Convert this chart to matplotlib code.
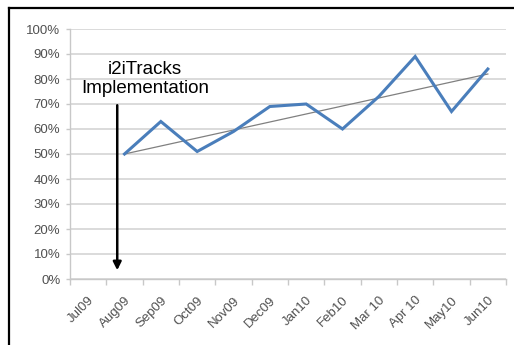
import numpy as np
import matplotlib
matplotlib.use("Agg")
import matplotlib.pyplot as plt
from matplotlib.lines import Line2D

months = ["Jul09", "Aug09", "Sep09", "Oct09", "Nov09", "Dec09", "Jan10",
          "Feb10", "Mar 10", "Apr 10", "May10", "Jun10"]
# share per month, no value for Jul09
rate = [np.nan, 0.50, 0.63, 0.51, 0.59, 0.69, 0.70, 0.60, 0.73, 0.89, 0.67, 0.84]
trend_ends = [0.50, 0.82]          # straight trend from Aug09 to Jun10
marker_month = "Aug09"

plt.rcParams['font.family'] = ['Liberation Sans', 'DejaVu Sans']

fig = plt.figure(figsize=(5.14, 3.45), dpi=100)
ax = fig.add_axes([70 / 514, 1 - 279 / 345, 436 / 514, 250 / 345])

x = np.arange(len(months))
ax.plot(x, rate, color="#4a7ebb", lw=2.2, solid_joinstyle="miter", zorder=3)
ax.plot([1, len(months) - 1], trend_ends, color="#808080", lw=0.9, zorder=2)

ax.set_xlim(-0.5, len(months) - 0.5)
ax.set_ylim(0, 1)

# gridlines
ax.set_yticks(np.arange(0, 1.01, 0.1))
ax.set_yticklabels([f"{int(round(v * 100))}%" for v in np.arange(0, 1.01, 0.1)])
ax.yaxis.grid(True, color="#d4d4d4", lw=1.2)
ax.set_axisbelow(True)

# category ticks sit between labels
ax.set_xticks(np.arange(-0.5, len(months)), minor=False)
ax.set_xticklabels([])
ax.set_xticks(x, minor=True)
ax.set_xticklabels(months, minor=True, rotation=45, ha="right",
                   rotation_mode="anchor")
ax.tick_params(axis="x", which="major", length=4, color="#c8c8c8", width=1)
ax.tick_params(axis="x", which="minor", length=0, pad=11, labelsize=9.5,
               labelcolor="#505050")
ax.tick_params(axis="y", length=3, color="#c8c8c8", width=1, labelsize=9.5,
               labelcolor="#505050", pad=4)

for side in ["top", "right"]:
    ax.spines[side].set_visible(False)
for side in ["left", "bottom"]:
    ax.spines[side].set_color("#c8c8c8")
    ax.spines[side].set_linewidth(1)

# implementation marker
mx = months.index(marker_month) - 0.2
ax.annotate("", xy=(mx, 0.035), xytext=(mx, 0.695),
            arrowprops=dict(arrowstyle="-|>", color="black", lw=1.8,
                            mutation_scale=12, shrinkA=0, shrinkB=0))
ax.text(1.56, 0.800, "i2iTracks\nImplementation", ha="center", va="center",
        fontsize=13.5, color="black", linespacing=1.15)

# frame around the chart
fig.add_artist(Line2D([8.5 / 514, 1], [1 - 7.5 / 345] * 2, color="black",
                      lw=1.6, transform=fig.transFigure))
fig.add_artist(Line2D([8.5 / 514] * 2, [0, 1 - 7.5 / 345], color="black",
                      lw=1.6, transform=fig.transFigure))

fig.savefig("out.png", dpi=100)
